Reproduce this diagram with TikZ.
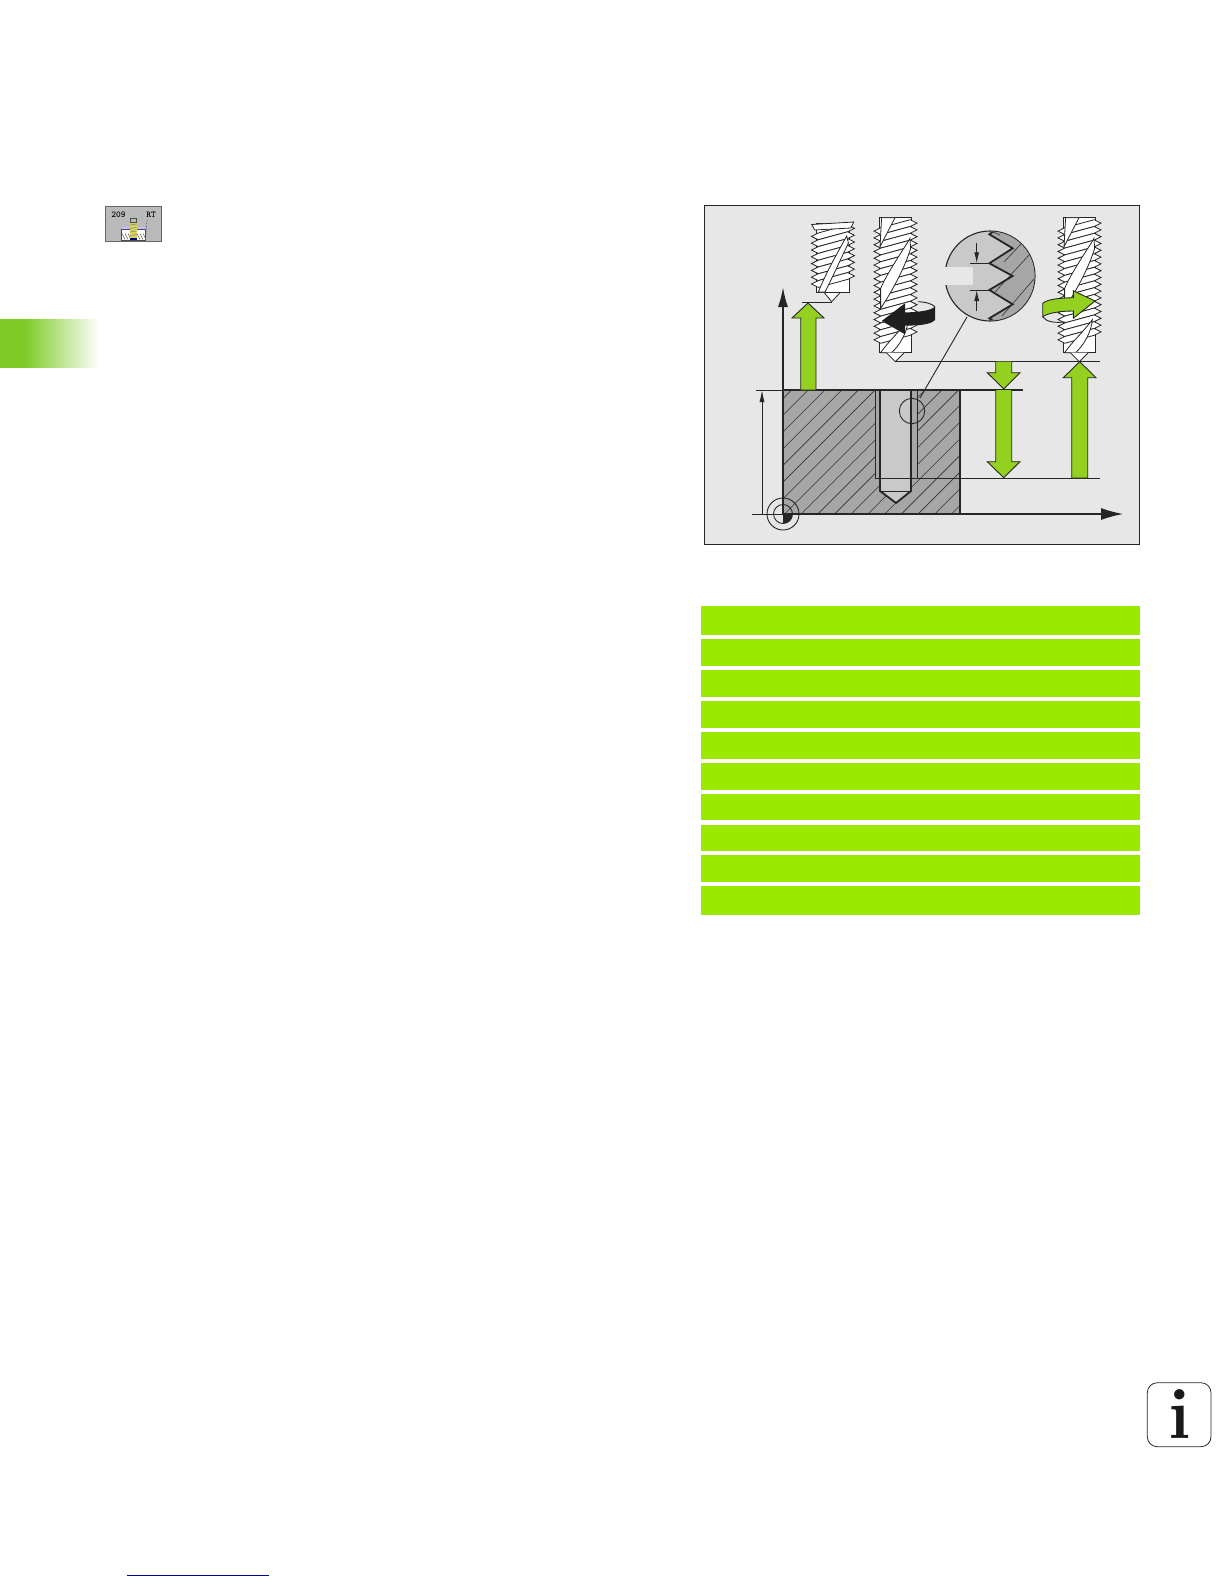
\documentclass[tikz,border=0pt]{standalone}
\usepackage{tikz}
\usetikzlibrary{arrows.meta}
\definecolor{panelgray}{HTML}{E7E7E7}
\definecolor{blockgray}{HTML}{A6A6A6}
\definecolor{holegray}{HTML}{C9C9C9}
\definecolor{arrowgreen}{HTML}{93D01F}
\definecolor{bargreen}{HTML}{9BE800}
\definecolor{sidegreen}{HTML}{7FCC28}
\definecolor{keyyellow}{HTML}{D8D060}
\tikzset{
  thinline/.style={line width=0.9pt,black!85},
  thickline/.style={line width=1.8pt,black!85},
  greenarrow/.style={fill=arrowgreen,draw=black!85,line width=0.9pt},
  toolline/.style={fill=white,draw=black!85,line width=0.8pt},
  hatchline/.style={line width=0.6pt,black!80},
  keytext/.style={font=\bfseries\ttfamily\fontsize{9}{9}\selectfont,inner sep=0pt}
}
% tap body: #1 = length, #2 = last thread turn
\newcommand{\tapbody}[2]{
  \draw[toolline] (0,0) rectangle (32.4,#1);
  \foreach \turn in {0,...,#2}
    \draw[toolline] (1.5,{\turn*6.8+10}) -- (-5.3,{\turn*6.8+13.4}) -- (1.5,{\turn*6.8+16.8})
      -- (30.9,{\turn*6.8+8.8}) -- (37.7,{\turn*6.8+5.4}) -- (30.9,{\turn*6.8+2}) -- cycle;
}
\begin{document}
\begin{tikzpicture}[x=1pt,y=-1pt]
\useasboundingbox (0,0) rectangle (1224,1584);
% margin tab
\fill[sidegreen] (0,319.3) rectangle (25,367.7);
\shade[left color=sidegreen,right color=white] (25,319.3) rectangle (100,367.7);
% softkey
\draw[fill=black!27,draw=black!60,line width=0.8pt] (105.5,206) rectangle (161.5,241.5);
\node[keytext] (keynum) at (118.5,215) {209};
\node[keytext] (keyrt) at (151,215) {RT};
\fill[white] (121.7,229) rectangle (145,240);
\draw[black!70,line width=0.6pt] (121.7,229) rectangle (145,240);
\foreach \k in {0,1,2}
  \draw[black!60,line width=0.5pt] ({125+\k*3},239.5) -- ++(-3,-6);
\foreach \k in {0,1,2}
  \draw[black!60,line width=0.5pt] ({140+\k*3},239.5) -- ++(-3,-6);
\fill[blue!25] (122,226.5) rectangle (130,229);
\fill[blue!25] (136.7,226.5) rectangle (145,229);
\draw[black!70,line width=0.6pt] (130.3,218) rectangle (136.5,222.7);
\fill[keyyellow] (130,222.7) rectangle (136.7,238);
\foreach \k in {0,1,2,3}
  \draw[black!50,line width=0.5pt] (130,{225+\k*3.5}) -- (136.7,{224+\k*3.5});
\fill[blue!45!black] (130,238) rectangle (136.7,240);
\draw[black!70,densely dotted,line width=0.6pt] (147,220) -- (146,233);
% table bars
\foreach \barT/\barB in {606/635,639/666,670/697,701/728,732/759,763/790,794/820,825/851,855/882,886/915}
  \fill[bargreen] (701,\barT) rectangle (1140,\barB);
% panel
\draw[fill=panelgray,draw=black!85,line width=0.8pt] (704.5,205) rectangle (1139.5,544);
% block with hatching
\fill[blockgray] (783,390) rectangle (960,514);
\begin{scope}
\clip (783,390) rectangle (960,514);
\foreach \k in {0,...,18}
  \draw[hatchline] ({791.6+\k*16.7},390) -- ++(-124,124);
\end{scope}
\fill[blockgray] (875,390) rectangle (917,478);
\draw[thinline] (875,390) -- (875,478);
\draw[thinline] (917,390) -- (917,478);
\draw[thickline,fill=holegray] (880,390) -- (880,491) -- (896,503) -- (911,491) -- (911,390);
\draw[thinline] (880,491) -- (911,491);
\draw[thickline] (783,390) rectangle (960,514);
% lines
\draw[thinline] (875,478) -- (1100,478);
\draw[thinline] (895.3,361.7) -- (1100,361.7);
\draw[thinline] (801.7,302.3) -- (831.7,302.3);
\draw[thinline] (756,390) -- (783,390);
\draw[thickline] (783,390) -- (1023,390);
\draw[thinline] (752,514) -- (783,514);
% axes
\draw[thickline,-{Latex[length=20pt,width=10pt]}] (783,514) -- (783,287);
\draw[thinline,line width=1.1pt,-{Latex[length=22pt,width=12pt]}] (960,514) -- (1123,514);
\draw[thinline,-{Latex[length=12pt,width=5pt]}] (762,514) -- (762,390);
% datum circles
\fill[black!85] (783,514) -- (792.5,514) arc[start angle=0,end angle=90,radius=9.5,y=1pt] -- cycle;
\draw[thinline] (783,514) circle[radius=9.5];
\draw[thinline] (783,514) circle[radius=16];
% short tap
\begin{scope}[shift={(816.7,223)}]
\draw[toolline] (0,69) -- (7,69) -- (15,78.7) -- (24,69) -- (32,69);
\tapbody{69}{7}
\draw[toolline] (-5,1.5) -- (37,-1) -- (34,5) -- (-2,7) -- cycle;
\draw[toolline] (30,13) .. controls (24,24) and (9,50) .. (1.7,69) -- (8.3,69) .. controls (14,58) and (26,32) .. (31.7,20) -- cycle;
\end{scope}
% long taps
\foreach \tapx in {879.3,1063.3} {
\begin{scope}[shift={(\tapx,217.7)}]
\tapbody{135}{16}
\draw[toolline] (2.3,0) -- (15.7,0) -- (0.7,29) -- cycle;
\draw[toolline] (30.7,20.7) .. controls (24,32) and (8,55) .. (1.3,70.7) -- (1.3,90.7) .. controls (10,78) and (25,52) .. (31.3,30.7) -- cycle;
\draw[toolline] (29,102) .. controls (22,112) and (8,125) .. (1.3,135) -- (12.3,135) .. controls (20,128) and (28,115) .. (29,102) -- cycle;
\draw[toolline] (7,135) -- (16,144) -- (25,135);
\end{scope}
}
% big green arrows
\draw[greenarrow] (800.7,390) -- (800.7,318) -- (792,318) -- (808,303) -- (824,318) -- (816,318) -- (816,390) -- cycle;
\draw[greenarrow] (995.7,361.7) -- (995.7,372.7) -- (987.3,372.7) -- (1003.7,389) -- (1020,372.7) -- (1011.7,372.7) -- (1011.7,361.7);
\draw[greenarrow] (995.7,390) -- (995.7,461.7) -- (987.3,461.7) -- (1003.7,477.7) -- (1020,461.7) -- (1011.7,461.7) -- (1011.7,390);
\draw[greenarrow] (1071.7,478) -- (1071.7,377.7) -- (1063.3,377.7) -- (1079.7,361.7) -- (1096,377.7) -- (1087.7,377.7) -- (1087.7,478) -- cycle;
% rotation arrows
\draw[thinline] (918,301.7) .. controls (926,302) and (933,304) .. (935,307);
\fill[black!88] (881.7,321) -- (905,303.3) -- (905,312.5) .. controls (918,312) and (930,311) .. (935,306.7)
  -- (935,320) .. controls (930,325) and (918,325.5) .. (905,325.7) -- (905,334.3) -- cycle;
\draw[thinline] (1042.7,316.7) .. controls (1046,322) and (1055,323) .. (1065,322);
\draw[greenarrow] (1095,301) -- (1073.3,290.7) -- (1073.3,297.7) .. controls (1060,298) and (1048,299) .. (1042.7,303.3)
  -- (1042.7,316.7) .. controls (1048,313) and (1060,311) .. (1073.3,311) -- (1073.3,318.3) -- cycle;
% detail circle
\draw[thinline] (912,411) circle[radius=12.7];
\draw[thinline] (920,398) -- (967,317);
\draw[thinline,line width=1.1pt,fill=holegray] (990,276) circle[radius=45];
\begin{scope}
\clip (990,276) circle[radius=44.5];
\fill[blockgray] (998,228) -- (989.3,234.3) -- (1012.7,248.3) -- (989.3,263.3) -- (1012.7,276) -- (989.3,290)
  -- (1012.7,304.3) -- (989.3,318.3) -- (998,324) -- (1040,324) -- (1040,228) -- cycle;
\draw[hatchline] (1040,224) -- (1004,262);
\draw[hatchline] (1040,243) -- (995,292);
\draw[hatchline] (1040,272) -- (1002,316);
\draw[hatchline] (1000,235) -- (993,232);
\draw[thickline] (998,228) -- (989.3,234.3) -- (1012.7,248.3) -- (989.3,263.3) -- (1012.7,276) -- (989.3,290)
  -- (1012.7,304.3) -- (989.3,318.3) -- (998,324);
\end{scope}
\fill[panelgray] (943,266.7) rectangle (973.3,285);
\draw[thinline] (970,263.3) -- (989.3,263.3);
\draw[thinline] (970,290) -- (989.3,290);
\draw[thinline,-{Latex[length=11pt,width=5pt]}] (976.7,243) -- (976.7,263.3);
\draw[thinline,-{Latex[length=11pt,width=5pt]}] (976.7,311) -- (976.7,290);
% info sign
\draw[black!85,line width=0.8pt,rounded corners=10pt] (1147.3,1382.7) rectangle (1211,1446.7);
\node[font=\bfseries\fontsize{72}{72}\selectfont,inner sep=0pt,black!90] (infosign) at (1179.5,1414.5) {i};
% link rule
\draw[blue!60!black,line width=1pt] (127.3,1575.3) -- (269,1575.3);
\end{tikzpicture}
\end{document}
